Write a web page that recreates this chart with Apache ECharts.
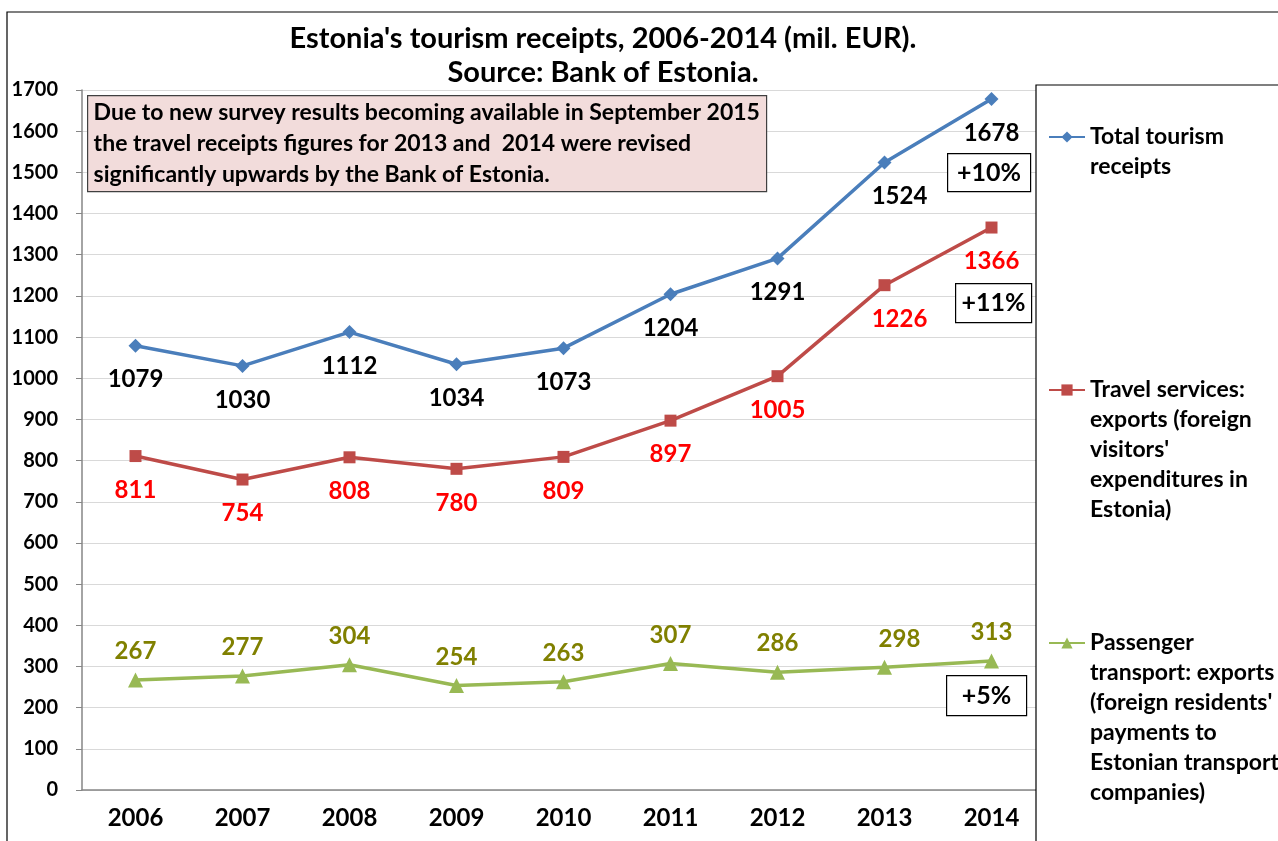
<!DOCTYPE html>
<html>
<head>
<meta charset="utf-8">
<script src="https://cdn.jsdelivr.net/npm/echarts@6/dist/echarts.min.js"></script>
<style>
	html, body { margin: 0; padding: 0; background: #fff; }
	#chart { width: 1278px; height: 841px; }
</style>
</head>
<body>
<div id="chart"></div>
<script>
const years = ["2006", "2007", "2008", "2009", "2010", "2011", "2012", "2013", "2014"]
const totalReceipts = [1079, 1030, 1112, 1034, 1073, 1204, 1291, 1524, 1678]
const travelServices = [811, 754, 808, 780, 809, 897, 1005, 1226, 1366]
const passengerTransport = [267, 277, 304, 254, 263, 307, 286, 298, 313]
const seriesNames = ["Total tourism receipts", "Travel services", "Passenger transport"]
const legendLines = [
	["Total tourism", "receipts"],
	["Travel services:", "exports (foreign", "visitors'", "expenditures in", "Estonia)"],
	["Passenger", "transport: exports", "(foreign residents'", "payments to", "Estonian transport", "companies)"],
]
const noteLines = [
	"Due to new survey results becoming available in September 2015",
	"the travel receipts figures for 2013 and  2014 were revised",
	"significantly upwards by the Bank of Estonia.",
]
const changeLabels = ["+10%", "+11%", "+5%"]

const FONT = "Lato"
const chart = echarts.init(document.getElementById("chart"))

// 2013 labels sit a bit to the right in the original
const withOffsets = (arr) =>
	arr.map((v, i) => (i === 7 ? { value: v, label: { offset: [15, 0] } } : v))

const lineSeries = (name, data, color, symbol, size, labelColor, pos, dist) => ({
	name: name,
	type: "line",
	data: withOffsets(data),
	symbol: symbol,
	symbolSize: size,
	lineStyle: { color: color, width: 3.5 },
	itemStyle: { color: color },
	label: {
		show: true,
		position: pos,
		distance: dist,
		color: labelColor,
		fontFamily: FONT,
		fontWeight: "bold",
		fontSize: 24,
	},
	z: 3,
})

// legend text is centred on the icon, so blank lines are put in front
// to make the icon line up with the first line
const legendItem = (idx, top) => {
	const lines = legendLines[idx]
	const pad = new Array(lines.length - 1).fill("")
	return {
		data: [seriesNames[idx]],
		orient: "vertical",
		left: 1043,
		top: top,
		itemWidth: 36,
		itemHeight: 14,
		formatter: () => pad.concat(lines).join("\n"),
		textStyle: {
			fontFamily: FONT,
			fontWeight: "bold",
			fontSize: 23,
			lineHeight: 30,
			color: "#000",
		},
		z: 10,
	}
}

const changeBox = (text, x, y, w, h) => ({
	type: "group",
	left: x,
	top: y,
	z: 20,
	children: [
		{
			type: "rect",
			z: 20,
			shape: { x: 0, y: 0, width: w, height: h },
			style: { fill: "#fff", stroke: "#000", lineWidth: 1.2 },
		},
		{
			type: "text",
			z: 21,
			x: w / 2,
			y: h / 2,
			style: {
				text: text,
				align: "center",
				verticalAlign: "middle",
				font: "bold 25px " + FONT,
				fill: "#000",
			},
		},
	],
})

let option = {
	animation: false,
	backgroundColor: "#fff",
	title: {
		text: "Estonia's tourism receipts, 2006-2014 (mil. EUR).\nSource: Bank of Estonia.",
		left: 598,
		top: 17,
		textAlign: "center",
		textStyle: {
			fontFamily: FONT,
			fontWeight: "bold",
			fontSize: 29,
			lineHeight: 34,
			color: "#000",
		},
	},
	grid: {
		left: 82,
		right: 233,
		top: 90,
		bottom: 51,
	},
	xAxis: {
		type: "category",
		data: years,
		boundaryGap: true,
		axisLine: { lineStyle: { color: "#868686", width: 1.5 } },
		axisTick: { length: 8, lineStyle: { color: "#868686" } },
		axisLabel: {
			margin: 16,
			color: "#000",
			fontFamily: FONT,
			fontWeight: "bold",
			fontSize: 24,
		},
	},
	yAxis: {
		type: "value",
		min: 0,
		max: 1700,
		interval: 100,
		axisLine: { show: true, lineStyle: { color: "#868686", width: 1.5 } },
		axisTick: { show: true, length: 6, lineStyle: { color: "#868686" } },
		splitLine: { lineStyle: { color: "#d9d9d9", width: 1.2 } },
		axisLabel: {
			margin: 24,
			color: "#000",
			fontFamily: FONT,
			fontWeight: "bold",
			fontSize: 20,
			formatter: (v) => String(v),
		},
	},
	legend: [legendItem(0, 87), legendItem(1, 250), legendItem(2, 473)],
	series: [
		lineSeries(seriesNames[0], totalReceipts, "#4a7ebb", "diamond", 14, "#000", "bottom", 15),
		lineSeries(seriesNames[1], travelServices, "#be4b48", "rect", 12, "#ff0000", "bottom", 16),
		lineSeries(seriesNames[2], passengerTransport, "#98b954", "triangle", 15, "#808000", "top", 9),
	],
	graphic: [
		{
			type: "rect",
			shape: { x: 7, y: 12, width: 1300, height: 900 },
			style: { fill: "none", stroke: "#000", lineWidth: 1.2 },
			z: 0,
			silent: true,
		},
		{
			type: "rect",
			shape: { x: 1036, y: 85, width: 300, height: 800 },
			style: { fill: "#fff", stroke: "#000", lineWidth: 1.2 },
			z: 5,
			silent: true,
		},
		{
			type: "group",
			left: 87,
			top: 95,
			z: 20,
			children: [
				{
					type: "rect",
					z: 20,
					shape: { x: 0, y: 0, width: 679, height: 96 },
					style: { fill: "#f2dcdb", stroke: "#404040", lineWidth: 1.2 },
				},
				{
					type: "text",
					z: 21,
					x: 6,
					y: 48,
					style: {
						text: noteLines.join("\n"),
						verticalAlign: "middle",
						font: "bold 23px " + FONT,
						lineHeight: 31,
						fill: "#000",
					},
				},
			],
		},
		changeBox(changeLabels[0], 947, 153, 83, 38),
		changeBox(changeLabels[1], 955, 283, 76, 39),
		changeBox(changeLabels[2], 946, 675, 80, 40),
	],
}
chart.setOption(option)
</script>
</body>
</html>
